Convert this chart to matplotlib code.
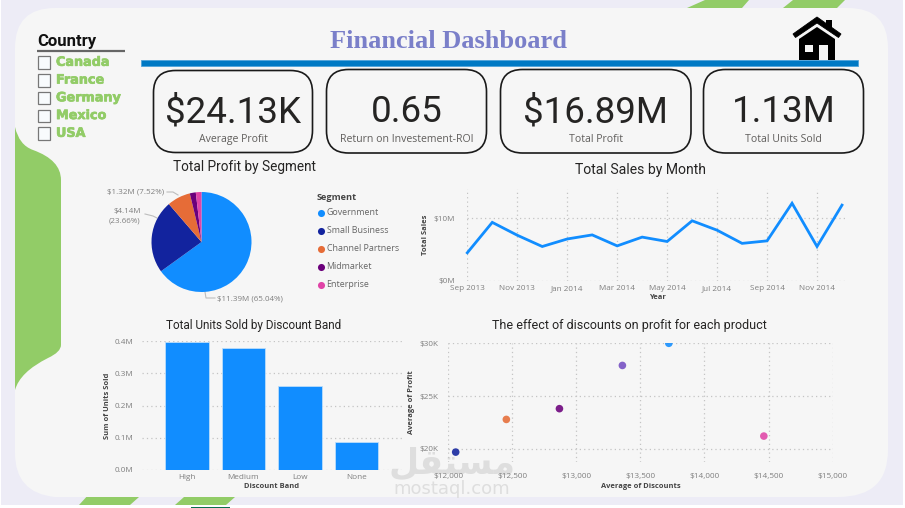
import matplotlib
matplotlib.use("Agg")
import matplotlib.pyplot as plt
import matplotlib.patheffects as pe
from matplotlib.patches import FancyBboxPatch, PathPatch, Polygon, Rectangle
from matplotlib.path import Path

W, H = 905, 508

countries = ["Canada", "France", "Germany", "Mexico", "USA"]

kpi_values = ["$24.13K", "0.65", "$16.89M", "1.13M"]
kpi_names = ["Average Profit", "Return on Investement-ROI", "Total Profit", "Total Units Sold"]

segments = ["Government", "Small Business", "Channel Partners", "Midmarket", "Enterprise"]
segment_profit = [11.39, 4.14, 1.32, 0.34, 0.32]
segment_labels = ["$11.39M (65.04%)", "$4.14M\n(23.66%)", "$1.32M (7.52%)"]
segment_colors = ["#118DFF", "#12239E", "#E66C37", "#6B007B", "#E044A7"]

months = ["Sep 2013", "Oct 2013", "Nov 2013", "Dec 2013", "Jan 2014", "Feb 2014", "Mar 2014", "Apr 2014",
          "May 2014", "Jun 2014", "Jul 2014", "Aug 2014", "Sep 2014", "Oct 2014", "Nov 2014", "Dec 2014"]
month_sales = [4.5, 9.35, 7.3, 5.5, 6.7, 7.35, 5.6, 7.0, 6.3, 9.6, 8.1, 6.0, 6.4, 12.4, 5.5, 12.1]

bands = ["High", "Medium", "Low", "None"]
band_units = [0.398, 0.379, 0.262, 0.087]

avg_discounts = [13722, 12060, 12455, 12869, 14463, 13360]
avg_profit = [30.0, 19.68, 22.78, 23.8, 21.2, 27.9]
product_colors = ["#118DFF", "#12239E", "#E66C37", "#6B007B", "#E044A7", "#744EC2"]

GREEN = "#92CC67"
PANEL = "#F6F6F6"
TICK = "#7F7F7F"
TITLE = "#252423"
FONT = "Roboto"
UI = "Open Sans"

plt.rcParams["font.family"] = [UI, "DejaVu Sans"]

fig = plt.figure(figsize=(W / 100, H / 100), dpi=100, facecolor="#EDECF6")


def px_axes(x0, y0, x1, y1, **kw):
    return fig.add_axes([x0 / W, 1 - y1 / H, (x1 - x0) / W, (y1 - y0) / H], **kw)


# page furniture, drawn in pixel coordinates
bg = px_axes(0, 0, W, H, zorder=0)
bg.set_xlim(0, W)
bg.set_ylim(H, 0)
bg.axis("off")

for pts in ([(687, 8), (705, 0), (749, 0), (742, 8)],
            [(783, 8), (793, 0), (845, 0), (837, 8)],
            [(79, 505), (90, 493), (101, 493), (101, 497), (139, 497), (130, 505)],
            [(175, 505), (184, 497), (235, 497), (226, 505)]):
    bg.add_patch(Polygon(pts, fc=GREEN, ec="none"))

panel = Path([(55, 8), (848, 8), (888, 8), (888, 48), (888, 450), (888, 497), (838, 497),
              (55, 497), (15, 493), (15, 453), (15, 48), (15, 8), (55, 8)],
             [Path.MOVETO, Path.LINETO, Path.CURVE3, Path.CURVE3, Path.LINETO, Path.CURVE3, Path.CURVE3,
              Path.LINETO, Path.CURVE3, Path.CURVE3, Path.LINETO, Path.CURVE3, Path.CURVE3])
bg.add_patch(PathPatch(panel, fc=PANEL, ec="none"))

tab = Path([(15, 127), (19, 145), (33, 150), (61, 160), (61, 180), (61, 345), (61, 352), (48, 358),
            (20, 372), (15, 390), (15, 127)],
           [Path.MOVETO, Path.CURVE3, Path.CURVE3, Path.CURVE3, Path.CURVE3, Path.LINETO, Path.CURVE3,
            Path.CURVE3, Path.CURVE3, Path.CURVE3, Path.CLOSEPOLY])
bg.add_patch(PathPatch(tab, fc=GREEN, ec="none"))

bg.add_patch(Rectangle((0, 505), W, 3, fc="white", ec="none"))
bg.add_patch(Rectangle((0, 0), 1, H, fc="white", ec="none"))
bg.add_patch(Rectangle((903, 0), 2, H, fc="white", ec="none"))
bg.add_patch(Rectangle((191, 507), 39, 1, fc="#0B6E4F", ec="none"))

# watermark
bg.text(452, 464, "\uFEDE\uFED8\uFE98\uFEB4\uFEE3", family="DejaVu Sans", fontsize=25, fontweight="bold",
        color="#DEDEDE", ha="center", va="center")
bg.text(452, 488.5, "mostaql.com", family="DejaVu Sans", fontsize=13, color="#DEDEDE", ha="center", va="center")

# country slicer
bg.text(37, 41.5, "Country", family=FONT, fontsize=12, fontweight="bold", color="#111111", va="center")
bg.plot([37, 125], [50.5, 50.5], color="#666666", lw=1.6, solid_capstyle="butt")
for i, name in enumerate(countries):
    y = 62.3 + 17.75 * i
    bg.add_patch(Rectangle((37.5, y - 6), 12.5, 12.5, fc="#F8FBFD", ec="#777777", lw=0.9))
    bg.text(56, y, name, family="DejaVu Sans", fontsize=9.2, fontweight="bold", color=GREEN, va="center",
            path_effects=[pe.withStroke(linewidth=0.5, foreground=GREEN)])

# header
bg.text(448, 41.5, "Financial Dashboard", family="Liberation Serif", fontsize=19, fontweight="bold",
        color="#7A7FC9", ha="center", va="center")
bg.add_patch(Rectangle((141, 60), 717, 5.5, fc="#0079C4", ec="#4FA3DA", lw=0.6))

# home icon
bg.add_patch(Polygon([(826, 20), (832, 20), (832, 30), (826, 27)], fc="black", ec="none"))
bg.add_patch(Polygon([(793, 34), (817, 17), (841, 34), (838.5, 37.5), (817, 23), (795.5, 37.5)], fc="black", ec="black", lw=0.6))
bg.add_patch(Polygon([(799, 60), (799, 39), (817, 27), (835, 39), (835, 60)], fc="black", ec="none"))
bg.add_patch(Rectangle((805, 45), 8, 7, fc=PANEL, ec="none"))
bg.add_patch(Rectangle((819, 45), 9, 15, fc=PANEL, ec="none"))

# KPI cards
cards = [(153.5, 70.5, 312.5, 152.5), (326.5, 69.5, 486.5, 153), (500.5, 69.5, 691, 153), (703.5, 69.5, 863.5, 153)]
for (x0, y0, x1, y1), value, name in zip(cards, kpi_values, kpi_names):
    bg.add_patch(FancyBboxPatch((x0 + 22, y0 + 22), x1 - x0 - 44, y1 - y0 - 44, boxstyle="round,pad=22",
                                fc=PANEL, ec="#1A1A1A", lw=1.2))
    bg.text((x0 + x1) / 2, 112, value, family=FONT, fontsize=26.5, color=TITLE, ha="center", va="center")
    bg.text((x0 + x1) / 2, 139.5, name, fontsize=7.6, color="#605E5C", ha="center", va="center")

# chart titles
for x, y, size, text in [(244.5, 166.5, 9.8, "Total Profit by Segment"), (640, 170, 10.1, "Total Sales by Month"),
                         (253.5, 325.5, 8.5, "Total Units Sold by Discount Band"),
                         (629, 326, 9.0, "The effect of discounts on profit for each product")]:
    bg.text(x, y, text, family=FONT, fontsize=size, color=TITLE, ha="center", va="center")

# pie legend
bg.text(317, 198, "Segment", fontsize=6.6, fontweight="bold", color="#444444", va="center")
for i, (name, color) in enumerate(zip(segments, segment_colors)):
    y = 212.5 + 18 * i
    bg.scatter([321], [y], s=26, color=color, linewidths=0)
    bg.text(326.5, y, name, fontsize=6.4, color="#666666", va="center")

# pie leader lines and labels
bg.plot([205, 206, 215], [292, 298, 298], color="#BDBDBD", lw=0.8)
bg.plot([157, 153, 145], [218, 216, 214], color="#BDBDBD", lw=0.8)
bg.plot([178, 173, 167], [195, 192, 192], color="#BDBDBD", lw=0.8)
bg.text(217, 299, segment_labels[0], fontsize=5.8, color="#7F7F7F", va="center")
bg.text(140.5, 216, segment_labels[1], fontsize=5.8, color="#7F7F7F", va="center", ha="right", linespacing=1.45)
bg.text(164.5, 192, segment_labels[2], fontsize=5.8, color="#7F7F7F", va="center", ha="right")

pie_ax = px_axes(151.5, 192, 251.5, 292, zorder=2)
pie_ax.pie(segment_profit, colors=segment_colors, startangle=90, counterclock=False, radius=1)
pie_ax.set_xlim(-1, 1)
pie_ax.set_ylim(-1, 1)


def style_axes(ax):
    ax.set_facecolor("none")
    for side in ax.spines.values():
        side.set_visible(False)
    ax.set_axisbelow(True)
    ax.tick_params(length=0, labelsize=5.9, labelcolor=TICK, pad=3)


GRID = dict(color="#C4C4C4", linestyle=(0, (1, 2.5)), linewidth=0.9)

# sales line
line_ax = px_axes(467.3, 188.5, 848, 281, zorder=2)
style_axes(line_ax)
line_ax.plot(range(len(months)), month_sales, color="#118DFF", lw=2, clip_on=False, solid_joinstyle="miter")
line_ax.set_xlim(0, 15.24)
line_ax.set_ylim(0, 14.75)
line_ax.set_xticks(range(0, len(months), 2))
line_ax.set_xticklabels(months[::2])
line_ax.set_yticks([0, 10])
line_ax.set_yticklabels(["$0M", "$10M"])
line_ax.grid(True, **GRID)
line_ax.tick_params(axis="y", pad=9)
line_ax.set_xlabel("Year", fontsize=5.4, fontweight="bold", color="#444444", labelpad=1.5)
line_ax.set_ylabel("Total Sales", fontsize=5.4, fontweight="bold", color="#444444", labelpad=3)

# units by discount band
bar_ax = px_axes(142, 341, 402, 470, zorder=2)
style_axes(bar_ax)
bar_ax.bar(bands, band_units, width=0.77, color="#118DFF", edgecolor="#BBDDFB", linewidth=0.6)
bar_ax.set_xlim(-0.796, 3.805)
bar_ax.set_ylim(0, 0.4)
bar_ax.set_yticks([0, 0.1, 0.2, 0.3, 0.4])
bar_ax.set_yticklabels(["0.0M", "0.1M", "0.2M", "0.3M", "0.4M"])
bar_ax.grid(True, axis="y", **GRID)
bar_ax.tick_params(axis="y", pad=6)
bar_ax.tick_params(axis="x", pad=3)
bar_ax.set_xlabel("Discount Band", fontsize=5.4, fontweight="bold", color="#444444", labelpad=1.5)
bar_ax.set_ylabel("Sum of Units Sold", fontsize=5.4, fontweight="bold", color="#444444", labelpad=3)

# discount vs profit
sc_ax = px_axes(448, 343.3, 832.7, 461.7, zorder=2)
style_axes(sc_ax)
sc_ax.scatter(avg_discounts, avg_profit, s=30, c=product_colors, alpha=0.88, linewidths=0)
sc_ax.set_xlim(12000, 15000)
sc_ax.set_ylim(18.77, 30)
sc_ax.set_xticks(range(12000, 15001, 500))
sc_ax.set_xticklabels([f"${v:,}" for v in range(12000, 15001, 500)])
sc_ax.set_yticks([20, 25, 30])
sc_ax.set_yticklabels(["$20K", "$25K", "$30K"])
sc_ax.grid(True, **GRID)
sc_ax.tick_params(axis="y", pad=7)
sc_ax.tick_params(axis="x", pad=8)
sc_ax.set_xlabel("Average of Discounts", fontsize=5.4, fontweight="bold", color="#444444", labelpad=2)
sc_ax.set_ylabel("Average of Profit", fontsize=5.4, fontweight="bold", color="#444444", labelpad=3)

fig.savefig("out.png", dpi=100)
